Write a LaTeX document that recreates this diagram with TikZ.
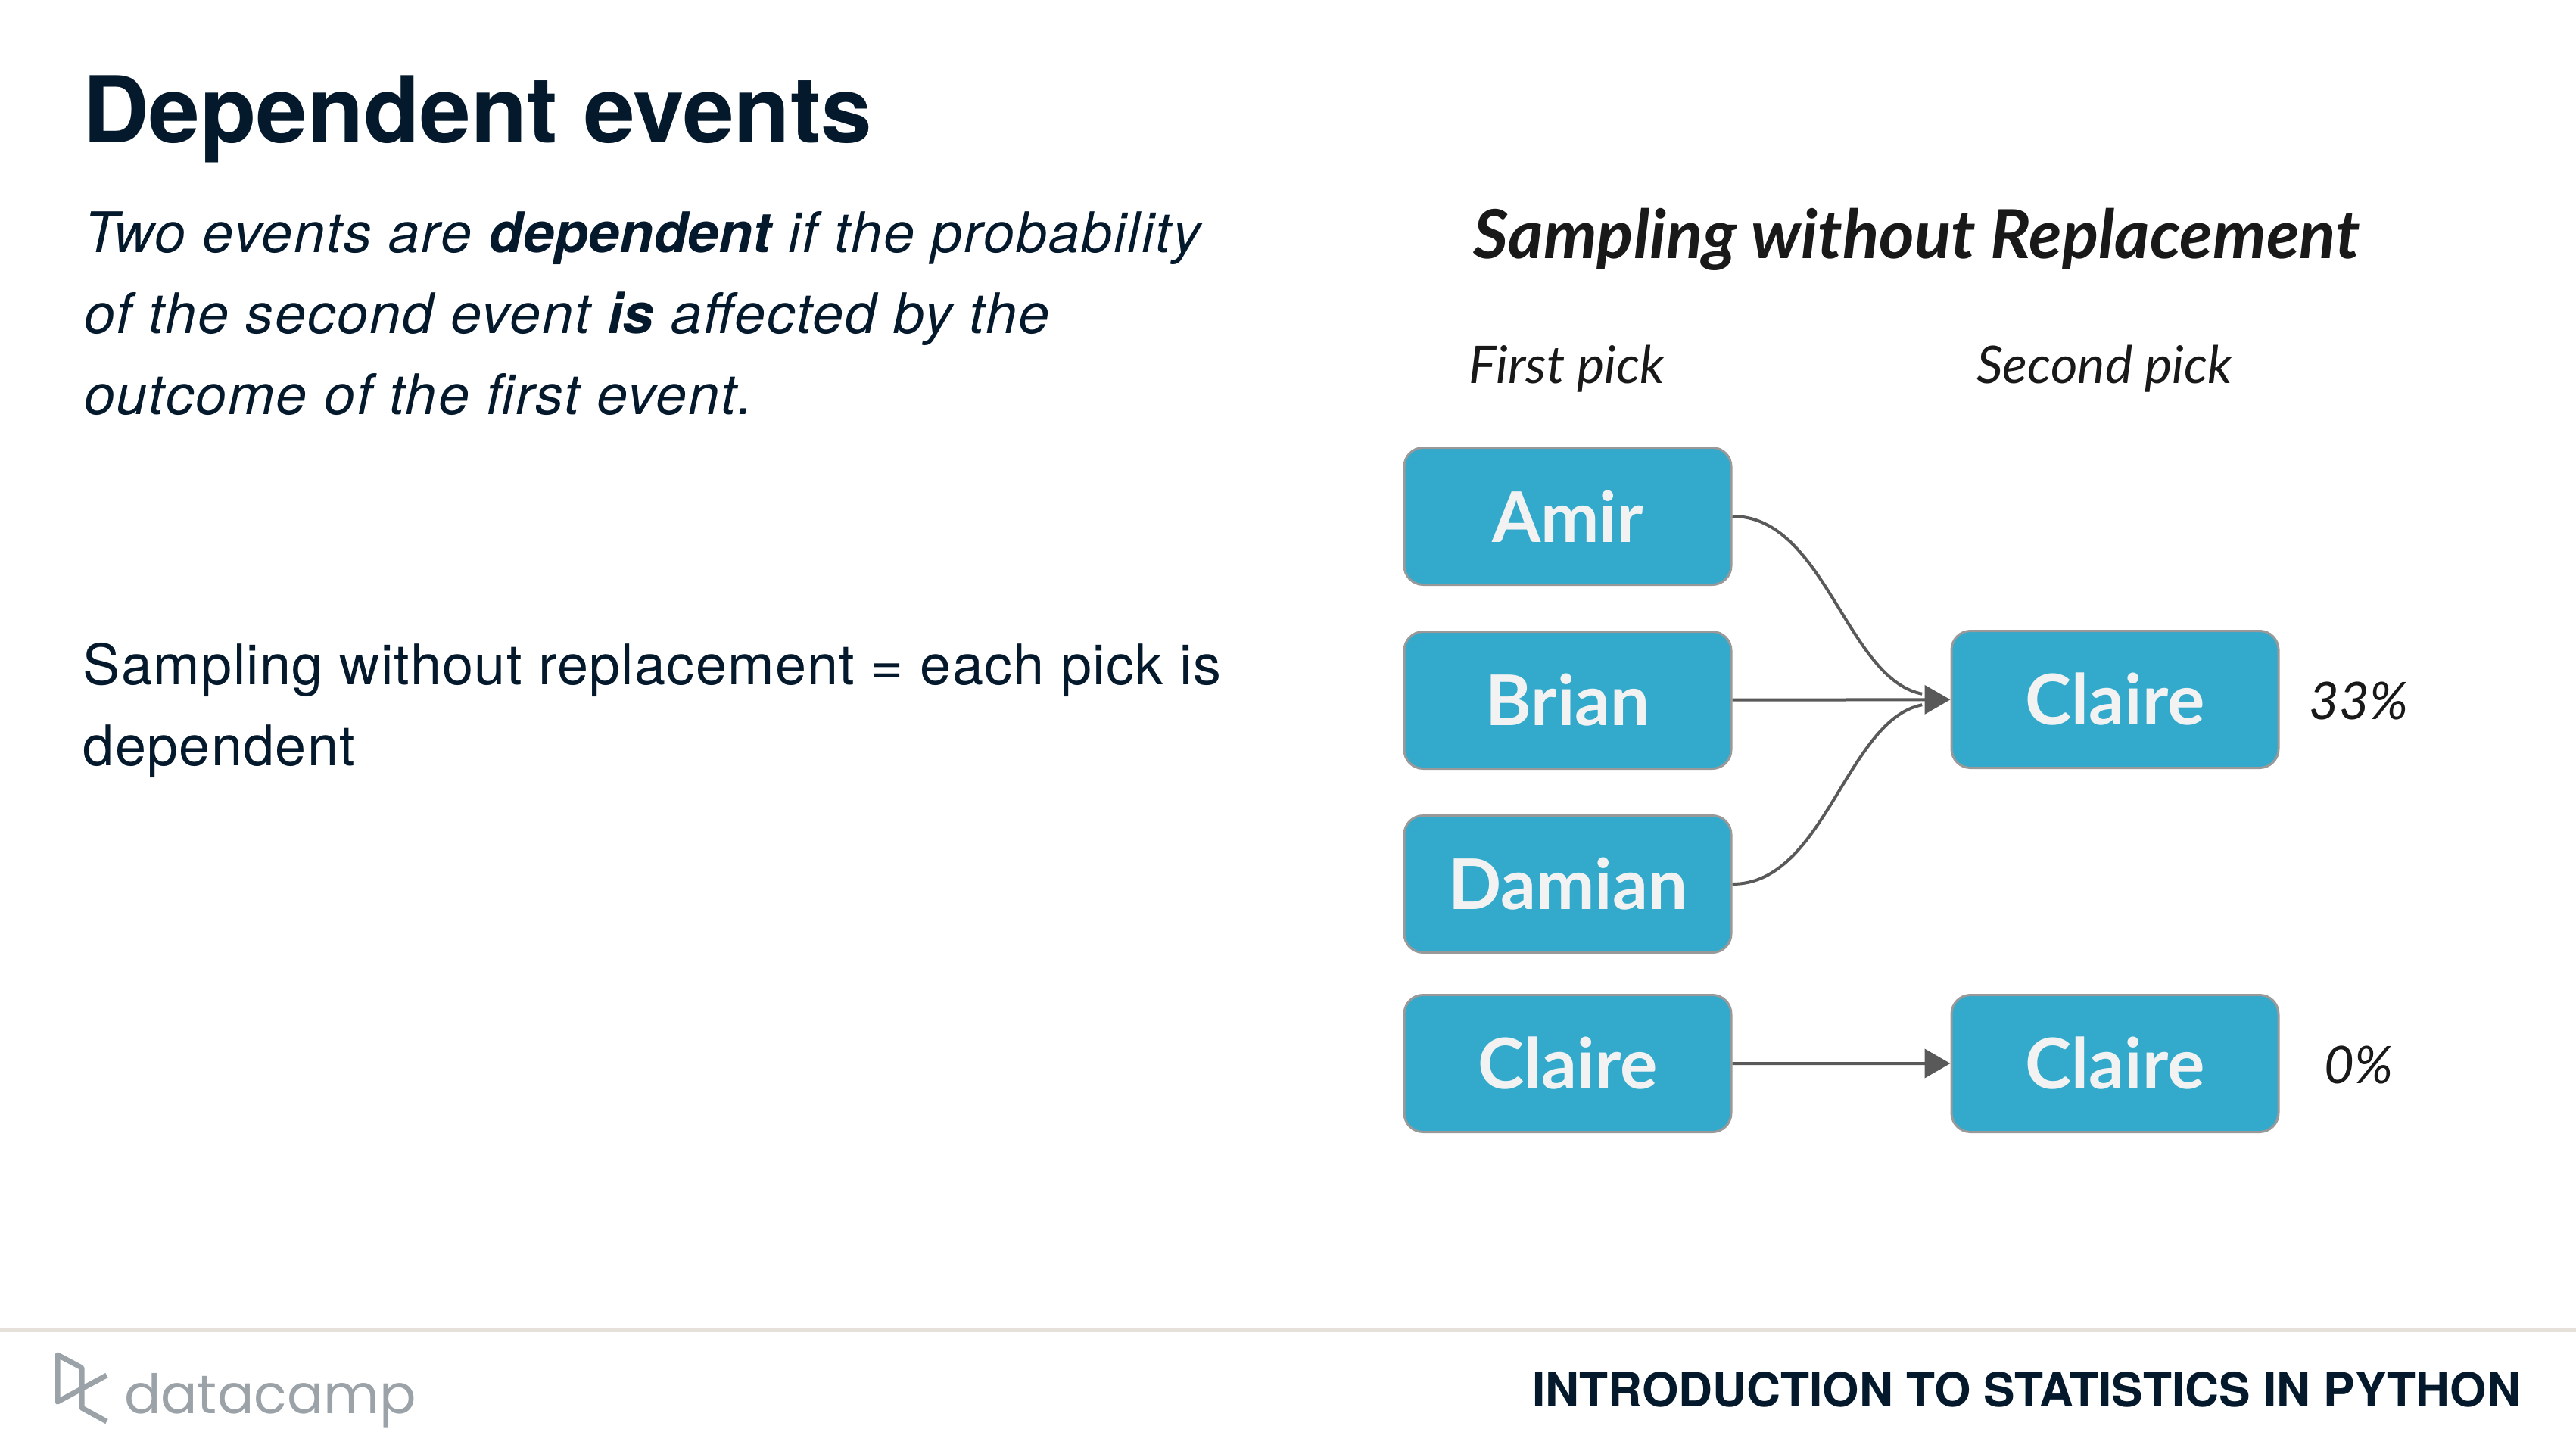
\documentclass[tikz,border=0pt]{standalone}
\usepackage{fontspec}
\setmainfont{TeX Gyre Heros}
\newfontfamily\bodyfont{TeX Gyre Heros}[LetterSpace=1.7]
\newfontfamily\deffont{TeX Gyre Heros}[LetterSpace=2.7]
\newfontfamily\latofont{Lato}
\newfontfamily\wordfont{Poppins}
\newcommand{\strongword}[1]{{\normalfont\bfseries\itshape #1}}
\usepackage{tikz}
\usetikzlibrary{arrows,arrows.meta}

\definecolor{navy}{HTML}{05192D}
\definecolor{pickblue}{HTML}{33AACC}
\definecolor{pickedge}{HTML}{999999}
\definecolor{linkgray}{HTML}{595959}
\definecolor{logogray}{HTML}{9BA3A9}
\definecolor{rulegray}{HTML}{E5E1DA}

\tikzset{
  pick/.style={draw=pickedge,line width=0.03cm,fill=pickblue,rounded corners=0.25cm,
    minimum width=4.32cm,minimum height=1.81cm,text=white!95!black,
    font=\latofont\bfseries\fontsize{26.3}{30}\selectfont},
  head/.style={text=black!90,inner sep=0pt,font=\latofont\itshape\fontsize{19.5}{23}\selectfont},
  body/.style={text=navy,inner sep=0pt,align=left,anchor=base west,font=\bodyfont\fontsize{21}{30.4}\selectfont},
  curvelink/.style={-,out=0,out looseness=0.83,in looseness=0.95,shorten >=0.38cm}
}

\begin{document}
\begin{tikzpicture}[->,>={Triangle[length=0.34cm,width=0.38cm]},auto,node distance=2.43cm,line width=0.04cm]

\useasboundingbox (0,0) rectangle (34.03,-19.17);

\node[body,font=\bfseries\fontsize{34.6}{42}\selectfont] (Title) at (1.07,-1.89) {Dependent events};
\node[body,font=\deffont\fontsize{21}{30.4}\selectfont] (Def) at (1.09,-5.47) {\itshape Two events are \strongword{dependent} if the probability\\
  \itshape of the second event \strongword{is} affected by the\\
  \itshape outcome of the first event.};
\node[body] (Note) at (1.08,-10.11) {Sampling without replacement = each pick is\\dependent};

\node[head,font=\latofont\bfseries\itshape\fontsize{25.4}{30}\selectfont] (Head) at (25.32,-3.16) {Sampling without Replacement};
\node[head] (First)  at (20.7,-4.87) {First pick};
\node[head] (Second) at (27.8,-4.87) {Second pick};

\node[pick] (Amir)    at (20.71,-6.82) {Amir};
\node[pick] (Brian)   [below of=Amir]  {Brian};
\node[pick] (Damian)  [below of=Brian] {Damian};
\node[pick] (Claire1) [below of=Damian,node distance=2.37cm] {Claire};

\node[pick] (Claire2) at (27.94,-9.24)  {Claire};
\node[pick] (Claire3) at (27.94,-14.05) {Claire};

\node[head] (P33) at (31.16,-9.26)  {33\%};
\node[head] (P0)  at (31.16,-14.07) {0\%};

\path[linkgray]
	(Amir.east) edge[curvelink,in=169] (Claire2.west)
	(Damian.east) edge[curvelink,in=191] (Claire2.west)
	(Brian) edge (Claire2)
	(Claire1) edge (Claire3);

% footer
\draw[-,rulegray,line width=0.05cm] (0,-17.57) coordinate (RuleL) -- (34.03,-17.57) coordinate (RuleR);
\draw[-,logogray,line width=0.07cm,line join=round] (1.41,-18.17) -- (0.76,-18.52) -- (0.76,-17.9)
	-- (1.08,-18.07) -- (1.08,-18.6) -- (1.41,-18.78);
\node[body,text=logogray,font=\wordfont\fontsize{20.4}{26}\selectfont] (Word) at (1.62,-18.67) {datacamp};
\node[body,anchor=base east,font=\bfseries\fontsize{17.7}{22}\selectfont] (Course) at (33.32,-18.58) {INTRODUCTION TO STATISTICS IN PYTHON};

\end{tikzpicture}
\end{document}
